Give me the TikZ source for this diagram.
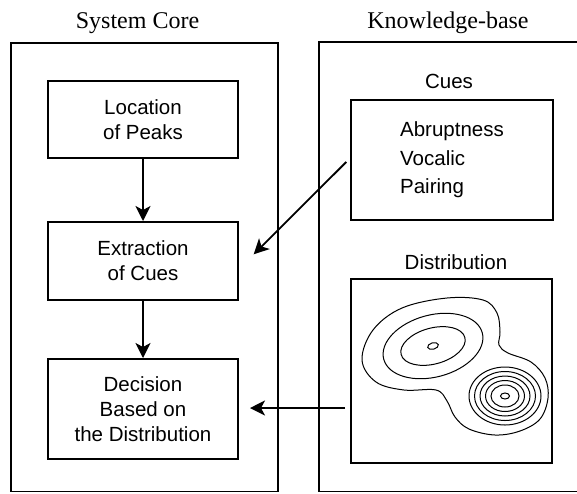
\documentclass[tikz,border=0pt]{standalone}
\usepackage{fontspec}
\setmainfont{Liberation Serif}
\newfontfamily\lsans{Liberation Sans}
\usetikzlibrary{arrows.meta,calc}
\begin{document}
\begin{tikzpicture}[x=1pt,y=-1pt,
  outerbox/.style={draw, line width=1.8pt, inner sep=0pt, outer sep=0pt},
  stepbox/.style={draw, line width=1.8pt, inner sep=0pt, outer sep=0pt, align=center,
    font=\lsans\fontsize{20.5}{25}\selectfont},
  titletext/.style={font=\fontsize{24}{28}\selectfont, inner sep=0pt, anchor=base},
  sublabel/.style={font=\lsans\fontsize{20.5}{25}\selectfont, inner sep=0pt},
  flow/.style={line width=1.8pt, -{Stealth[length=15pt,width=15pt,inset=4pt]}, shorten >=1pt},
  contour/.style={line width=1pt}]
\clip (0,0) rectangle (577,493);
% titles
\node[titletext] (tcore) at (137.5,28) {System Core};
\node[titletext] (tkb) at (448,28) {Knowledge-base};
% outer boxes
\node[outerbox, minimum width=267pt, minimum height=448.5pt] (core) at (144.5,267.25) {};
\node[outerbox, minimum width=264pt, minimum height=449.5pt] (kb) at (451,266.75) {};
% system core steps
\node[stepbox, minimum width=190pt, minimum height=77.3pt] (loc) at (143,119.35) {Location\\of Peaks};
\node[stepbox, minimum width=190pt, minimum height=78pt] (ext) at (143,261) {Extraction\\of Cues};
\node[stepbox, minimum width=190pt, minimum height=100pt] (dec) at (143,409) {Decision\\Based on\\the Distribution};
% knowledge base
\node[sublabel] (lcues) at (449,81) {Cues};
\node[stepbox, minimum width=201.5pt, minimum height=119.7pt, align=left,
  font=\lsans\fontsize{20.5}{28.5}\selectfont] (cues) at (452,160) {Abruptness\\Vocalic\\Pairing};
\node[sublabel] (ldist) at (456,262) {Distribution};
\node[outerbox, minimum width=201pt, minimum height=183.7pt] (dist) at (451.5,371.15) {};
% contours
\draw[contour] plot[smooth cycle, tension=0.6] coordinates {
  (362,360) (373,330) (402,308) (447,298) (483,300) (497,313) (500,332) (499,345)
  (508,353) (531,362) (545,378) (548,398) (540,419) (520,431) (495,435) (469,429)
  (455,417) (447,401) (436,390) (404,390) (376,382)};
\begin{scope}[rotate around={15:(433,346)}]
  \draw[contour] (433,346) ellipse [x radius=5.5pt, y radius=3.2pt];
  \draw[contour] (433,346) ellipse [x radius=33pt, y radius=18pt];
  \draw[contour] (433,346) ellipse [x radius=51pt, y radius=31pt];
\end{scope}
\draw[contour] (505,396) ellipse [x radius=4.5pt, y radius=3pt];
\foreach \rx/\ry in {14/11, 19.5/15.5, 25/20, 30.5/24.5, 36/29}
  \draw[contour] (505,396) ellipse [x radius=\rx pt, y radius=\ry pt];
% connectors
\draw[flow] (loc.south) -- (ext.north);
\draw[flow] (ext.south) -- (dec.north);
\coordinate (cuesout) at ($(cues.west)+(-5,2)$);
\coordinate (extin) at ($(ext.east)+(15,-6)$);
\draw[flow] (cuesout) -- (extin);
\coordinate (decin) at ($(dec.east)+(11,-1)$);
\coordinate (distout) at ($(dist.west |- decin)+(-6,0)$);
\draw[flow] (distout) -- (decin);
\end{tikzpicture}
\end{document}
